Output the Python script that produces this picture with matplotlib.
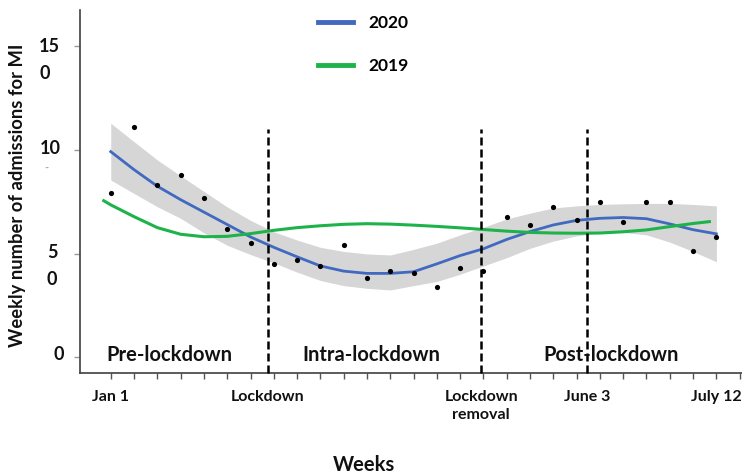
import numpy as np
import matplotlib
matplotlib.use("Agg")
import matplotlib.pyplot as plt
from matplotlib.transforms import blended_transform_factory

plt.rcParams['font.family'] = ['Lato', 'DejaVu Sans']
plt.rcParams['font.weight'] = 'bold'

# ---------------- data ----------------
weeks = list(range(27))
admissions_2020 = [79, 111, 83, 88, 77, 62, 55, 45, 47, 44, 54, 38, 41.5, 40.5,
                   34, 43, 41.5, 67.5, 64, 72.5, 66, 75, 65, 75, 75, 51, 58]
fit_2020 = [99.2, 90.5, 82.5, 76, 70, 64, 58, 53, 48.4, 44, 41.5, 40.4, 40.4, 41.2,
            45, 49, 52.3, 56.8, 60.6, 63.8, 66, 67, 67.4, 66.8, 64.3, 61.5, 59.5]
ci_upper = [112.9, 104, 95.2, 87.5, 80, 72.5, 66, 60.5, 56.5, 53, 51, 49.8, 49.3, 52,
            55, 59, 62.7, 66.7, 69.5, 72, 73, 73.7, 74, 74.2, 74.2, 73.7, 73]
ci_lower = [85.5, 79, 72.6, 67, 60, 54, 49.5, 45.5, 41, 37, 34.5, 33.2, 32.4, 34.5,
            36.5, 40, 44, 48, 52.5, 56, 58.5, 60, 60.2, 59, 55.5, 51, 46]
weeks_2019 = [-0.3] + list(range(26)) + [25.7]
fit_2019 = [75.5, 73.5, 67.8, 62.5, 59.3, 58.1, 58.3, 59.6, 61.2, 62.5, 63.4, 64.1,
            64.4, 64.2, 63.7, 63.1, 62.4, 61.6, 60.8, 60.2, 59.9, 59.8, 59.9, 60.5,
            61.4, 63, 64.5, 65.4]

period_lines = [6.75, 15.9, 20.45]
period_names = ["Pre-lockdown", "Intra-lockdown", "Post-lockdown"]
period_label_x = [2.5, 11.2, 21.5]

xtick_pos = [0, 6.75, 15.9, 20.45, 26]
xtick_labels = ["Jan 1", "Lockdown", "Lockdown\nremoval", "June 3", "July 12"]
yticks = [0, 50, 100, 150]

# ---------------- figure ----------------
W, H = 742, 475
fig = plt.figure(figsize=(W / 100, H / 100), dpi=100)
ax = fig.add_axes([80 / W, 1 - 373 / H, 662 / W, 363 / H])

ax.fill_between(weeks, ci_lower, ci_upper, color='#d6d6d6', linewidth=0, zorder=1)
ax.plot(weeks, fit_2020, color='#4169c0', lw=2, zorder=3, label='2020')
ax.plot(weeks_2019, fit_2019, color='#1db34a', lw=2.2, zorder=3, label='2019')
ax.scatter(weeks, admissions_2020, s=14, color='black', zorder=4, linewidths=0)

for xv in period_lines:
    ax.plot([xv, xv], [-7.7, 110], color='black', lw=1.8,
            linestyle=(0, (3.2, 1.6)), zorder=5, clip_on=False)

ax.set_xlim(-1.32, 27.1)
ax.set_ylim(-7.7, 167.6)

for s in ['top', 'right']:
    ax.spines[s].set_visible(False)
for s in ['left', 'bottom']:
    ax.spines[s].set_color('#404040')
    ax.spines[s].set_linewidth(1.2)

ax.set_xticks(list(range(28)))
ax.set_xticklabels([])
ax.set_yticks(yticks)
ax.set_yticklabels([])
ax.tick_params(axis='x', direction='out', length=4, width=1, color='#555555')
ax.tick_params(axis='y', direction='out', length=4, width=1, color='#999999')

# y tick labels (wrapped as in the original)
ty = blended_transform_factory(fig.transFigure, ax.transData)
fs_tick = 13
ytext = [("15", 39, 150), ("0", 39, 137), ("10", 40, 100.5), ("5", 47, 50.5),
         ("0", 47, 37.5), ("0", 53, 1)]
for t, px, yv in ytext:
    fig.text(px / W, yv, t, transform=ty, ha='left', va='center',
             fontsize=fs_tick, fontweight='bold', color='#111111')
fig.text(44 / W, 91, "-", transform=ty, ha='left', va='center',
         fontsize=8, color='#aaaaaa')

# x tick labels
tx = blended_transform_factory(ax.transData, fig.transFigure)
for pos, lab in zip(xtick_pos, xtick_labels):
    fig.text(pos, 1 - 390 / H, lab, transform=tx, ha='center', va='top',
             fontsize=11.5, fontweight='bold', color='#111111', linespacing=1.35)

# period names
for pos, lab in zip(period_label_x, period_names):
    ax.text(pos, 1, lab, ha='center', va='center', fontsize=14.5,
            fontweight='bold', color='#111111', zorder=6)

fig.text(364 / W, 1 - 465 / H, "Weeks", ha='center', va='center',
         fontsize=14.5, fontweight='bold', color='#111111')
fig.text(18 / W, 1 - 195 / H, "Weekly number of admissions for MI", rotation=90,
         ha='center', va='center', fontsize=13.2, fontweight='bold', color='#111111')

leg = ax.legend(loc='upper left', bbox_to_anchor=(318 / W, 1 - 15 / H),
                bbox_transform=fig.transFigure, frameon=False, borderpad=0,
                borderaxespad=0, handlelength=2.0, handletextpad=0.9,
                labelspacing=1.55, prop={'size': 12.5, 'weight': 'bold'})
for line in leg.get_lines():
    line.set_linewidth(3.5)

fig.savefig("out.png", dpi=100)
